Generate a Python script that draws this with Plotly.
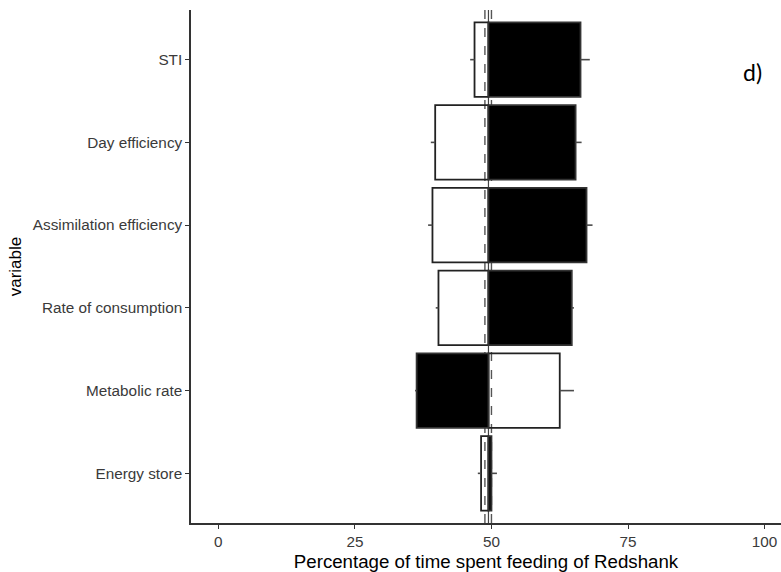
import plotly.graph_objects as go

# ---- data ----
variables = ["Energy store", "Metabolic rate", "Rate of consumption",
             "Assimilation efficiency", "Day efficiency", "STI"]
baseline = 49.45
black_values = [50.0, 36.3, 64.7, 67.4, 65.4, 66.3]
black_whiskers = [51.0, 36.0, 65.1, 68.5, 66.5, 68.0]
white_values = [48.1, 62.5, 40.3, 39.2, 39.7, 46.9]
white_whiskers = [47.5, 65.1, 39.8, 38.4, 38.9, 46.1]
ref_dashed = [48.8, 50.0]
x_ticks = [0, 25, 50, 75, 100]

positions = list(range(1, len(variables) + 1))

fig = go.Figure()

# white (unfilled) bars
fig.add_trace(go.Bar(
    orientation="h", y=positions,
    x=[v - baseline for v in white_values], base=baseline,
    width=0.9, marker=dict(color="rgba(255,255,255,0)",
                           line=dict(color="#222222", width=1.8)),
    hoverinfo="skip", showlegend=False))

# black bars
fig.add_trace(go.Bar(
    orientation="h", y=positions,
    x=[v - baseline for v in black_values], base=baseline,
    width=0.9, marker=dict(color="black",
                           line=dict(color="#333333", width=1.8)),
    hoverinfo="skip", showlegend=False))

# whiskers
wx, wy = [], []
for p, v, w in zip(positions, black_values, black_whiskers):
    wx += [v, w, None]
    wy += [p, p, None]
for p, v, w in zip(positions, white_values, white_whiskers):
    wx += [v, w, None]
    wy += [p, p, None]
fig.add_trace(go.Scatter(x=wx, y=wy, mode="lines",
                         line=dict(color="#4a4a4a", width=1.6),
                         hoverinfo="skip", showlegend=False))

# reference lines (beneath the bars)
for xv in ref_dashed:
    fig.add_shape(type="line", xref="x", yref="paper", x0=xv, x1=xv,
                  y0=0, y1=1, layer="below",
                  line=dict(color="#555555", width=1.4, dash="dash"))
fig.add_shape(type="line", xref="x", yref="paper", x0=baseline, x1=baseline,
              y0=0, y1=1, layer="below",
              line=dict(color="#444444", width=1.2))

fig.add_annotation(text="d)", xref="paper", yref="paper", x=0.9525, y=0.879,
                   xanchor="center", yanchor="middle",
                   showarrow=False, font=dict(family="Lato", size=23, color="black"))

fig.update_layout(
    width=781, height=572,
    margin=dict(l=191, r=0, t=10, b=49),
    plot_bgcolor="white", paper_bgcolor="white",
    barmode="overlay",
    font=dict(family="Liberation Sans, Arial", color="#333333"),
    xaxis=dict(range=[-5.0, 103.0], tickvals=x_ticks,
               ticktext=[str(t) for t in x_ticks],
               showgrid=False, zeroline=False,
               showline=True, linecolor="#333333", linewidth=1.5,
               ticks="outside", ticklen=4, tickwidth=1.2, tickcolor="#333333",
               tickfont=dict(size=15.3, color="#3a3a3a"),
               title=dict(text="Percentage of time spent feeding of Redshank",
                          font=dict(size=18.7, color="black"), standoff=6)),
    yaxis=dict(range=[0.4, 6.6], tickvals=positions, ticktext=variables,
               showgrid=False, zeroline=False,
               showline=True, linecolor="#333333", linewidth=1.5,
               ticks="outside", ticklen=4, tickwidth=1.2, tickcolor="#333333",
               tickfont=dict(size=15.3, color="#3a3a3a"),
               title=dict(text="variable", font=dict(size=17, color="black"),
                          standoff=7)),
)

fig.write_html("out.html",
               config={"displayModeBar": False},
               post_script="document.body.style.margin='0';"
                           "document.body.style.overflow='hidden';")
